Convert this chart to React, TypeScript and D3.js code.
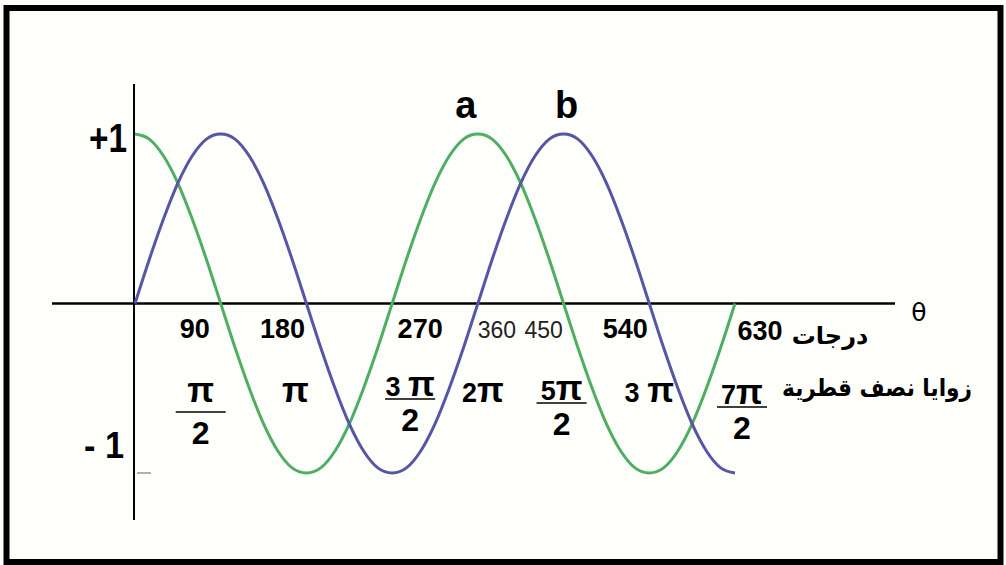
import React, { useRef, useEffect } from "react";
import * as d3 from "d3";

// angle samples in degrees
const degrees = [
  0, 15, 30, 45, 60, 75, 90, 105, 120, 135, 150, 165, 180, 195, 210, 225, 240,
  255, 270, 285, 300, 315, 330, 345, 360, 375, 390, 405, 420, 435, 450, 465,
  480, 495, 510, 525, 540, 555, 570, 585, 600, 615, 630,
];

// curve b (blue)
const seriesB = [
  0, 0.26, 0.5, 0.71, 0.87, 0.97, 1, 0.97, 0.87, 0.71, 0.5, 0.26, 0, -0.26,
  -0.5, -0.71, -0.87, -0.97, -1, -0.97, -0.87, -0.71, -0.5, -0.26, 0, 0.26,
  0.5, 0.71, 0.87, 0.97, 1, 0.97, 0.87, 0.71, 0.5, 0.26, 0, -0.26, -0.5,
  -0.71, -0.87, -0.97, -1,
];

// curve a (green)
const seriesA = [
  1, 0.97, 0.87, 0.71, 0.5, 0.26, 0, -0.26, -0.5, -0.71, -0.87, -0.97, -1,
  -0.97, -0.87, -0.71, -0.5, -0.26, 0, 0.26, 0.5, 0.71, 0.87, 0.97, 1, 0.97,
  0.87, 0.71, 0.5, 0.26, 0, -0.26, -0.5, -0.71, -0.87, -0.97, -1, -0.97,
  -0.87, -0.71, -0.5, -0.26, 0,
];

const degreeTicks = [90, 180, 270, 360, 450, 540, 630];
const degreeLabels = ["90", "180", "270", "360", "450", "540", "630"];
const degreeBold = [true, true, true, false, false, true, true];

const radianTicks = [90, 180, 270, 360, 450, 540, 630];
const radianCoef = ["", "", "3 ", "2", "5", "3 ", "7"];
const radianDen = ["2", "", "2", "", "2", "", "2"];

const degreeUnit = "درجات";
const radianUnit = "زوايا نصف قطرية";

// layout tweaks (px) for label placement, as in the picture
const degShift = [-26, -24, 28, 19, -20, -24, 25];
const radShift = [-20, -11, 18, 5, -2, 0, 7];
const fracLine = [412, 0, 399, 0, 403, 0, 407];

const App = () => {
  const ref = useRef<SVGSVGElement>(null);

  useEffect(() => {
    const svg = d3.select(ref.current);
    svg.selectAll("*").remove();

    const width = 1006;
    const height = 565;

    const x = d3.scaleLinear().domain([0, 630]).range([135, 735]);
    const y = d3.scaleLinear().domain([-1, 1]).range([473, 134]);

    svg
      .append("rect")
      .attr("width", width)
      .attr("height", height)
      .attr("fill", "#fefefb");

    // frame
    svg
      .append("rect")
      .attr("x", 6.5)
      .attr("y", 8)
      .attr("width", 994)
      .attr("height", 554)
      .attr("fill", "none")
      .attr("stroke", "#000")
      .attr("stroke-width", 6);

    // axes
    svg
      .append("line")
      .attr("x1", 52)
      .attr("x2", 895)
      .attr("y1", y(0))
      .attr("y2", y(0))
      .attr("stroke", "#000")
      .attr("stroke-width", 2.5);

    svg
      .append("line")
      .attr("x1", x(0) - 1)
      .attr("x2", x(0) - 1)
      .attr("y1", 84)
      .attr("y2", 520)
      .attr("stroke", "#000")
      .attr("stroke-width", 2);

    svg
      .append("line")
      .attr("x1", x(0) + 2)
      .attr("x2", x(0) + 16)
      .attr("y1", y(-1))
      .attr("y2", y(-1))
      .attr("stroke", "#b0b0b0")
      .attr("stroke-width", 2);

    // curves
    const line = d3
      .line<number>()
      .x((d, i) => x(degrees[i]))
      .y((d) => y(d))
      .curve(d3.curveCardinal);

    svg
      .append("path")
      .datum(seriesA)
      .attr("fill", "none")
      .attr("stroke", "#4fae62")
      .attr("stroke-width", 3)
      .attr("d", line);

    svg
      .append("path")
      .datum(seriesB)
      .attr("fill", "none")
      .attr("stroke", "#5656a6")
      .attr("stroke-width", 3)
      .attr("d", line);

    const font = "'Liberation Sans', Arial, sans-serif";

    // +1 / -1
    svg
      .append("text")
      .attr("x", 127)
      .attr("y", 152)
      .attr("text-anchor", "end")
      .attr("font-family", font)
      .attr("font-weight", "bold")
      .attr("font-size", 40)
      .attr("textLength", 38)
      .attr("lengthAdjust", "spacingAndGlyphs")
      .text("+1");

    svg
      .append("text")
      .attr("x", 124)
      .attr("y", 458)
      .attr("text-anchor", "end")
      .attr("font-family", font)
      .attr("font-weight", "bold")
      .attr("font-size", 36)
      .attr("textLength", 40)
      .attr("lengthAdjust", "spacingAndGlyphs")
      .text("- 1");

    // a / b
    svg
      .append("text")
      .attr("x", x(360) - 12)
      .attr("y", 118)
      .attr("text-anchor", "middle")
      .attr("font-family", font)
      .attr("font-weight", "bold")
      .attr("font-size", 38)
      .text("a");

    svg
      .append("text")
      .attr("x", x(450) + 3)
      .attr("y", 118)
      .attr("text-anchor", "middle")
      .attr("font-family", font)
      .attr("font-weight", "bold")
      .attr("font-size", 38)
      .text("b");

    // theta
    svg
      .append("text")
      .attr("x", 919)
      .attr("y", 321)
      .attr("text-anchor", "middle")
      .attr("font-family", "'DejaVu Sans', sans-serif")
      .attr("font-size", 25)
      .text("θ");

    // degree labels
    degreeTicks.forEach((d, i) => {
      svg
        .append("text")
        .attr("x", x(d) + degShift[i])
        .attr("y", i === 6 ? 340 : 338)
        .attr("text-anchor", "middle")
        .attr("font-family", font)
        .attr("font-weight", degreeBold[i] ? "bold" : "normal")
        .attr("font-size", degreeBold[i] ? 27 : 23)
        .attr("fill", degreeBold[i] ? "#000" : "#222")
        .text(degreeLabels[i]);
    });

    svg
      .append("text")
      .attr("x", 830)
      .attr("y", 344)
      .attr("text-anchor", "middle")
      .attr("font-family", "'DejaVu Sans', sans-serif")
      .attr("font-weight", "bold")
      .attr("font-size", 24)
      .text(degreeUnit);

    // numerator: coefficient + pi, pi drawn a bit taller
    const numerator = (cx: number, by: number, coef: string) => {
      const t = svg
        .append("text")
        .attr("x", cx)
        .attr("y", by)
        .attr("text-anchor", "middle")
        .attr("font-family", font)
        .attr("font-weight", "bold");
      if (coef) t.append("tspan").attr("font-size", 27).text(coef);
      t.append("tspan").attr("font-size", 35).text("π");
    };

    // radian labels
    radianTicks.forEach((d, i) => {
      const cx = x(d) + radShift[i];
      if (radianDen[i]) {
        const ly = fracLine[i];
        numerator(cx, ly - (i === 0 ? 10 : 3), radianCoef[i]);
        svg
          .append("line")
          .attr("x1", cx - 25)
          .attr("x2", cx + 25)
          .attr("y1", ly)
          .attr("y2", ly)
          .attr("stroke", "#000")
          .attr("stroke-width", 1.5);
        svg
          .append("text")
          .attr("x", cx)
          .attr("y", ly + 32)
          .attr("text-anchor", "middle")
          .attr("font-family", font)
          .attr("font-weight", "bold")
          .attr("font-size", 32)
          .text(radianDen[i]);
      } else {
        numerator(cx, 402, radianCoef[i]);
      }
    });

    svg
      .append("text")
      .attr("x", 877)
      .attr("y", 396)
      .attr("text-anchor", "middle")
      .attr("font-family", "'DejaVu Sans', sans-serif")
      .attr("font-weight", "bold")
      .attr("font-size", 24)
      .attr("textLength", 190)
      .attr("lengthAdjust", "spacingAndGlyphs")
      .text(radianUnit);
  }, []);

  return (
    <svg
      ref={ref}
      width={1006}
      height={565}
      style={{ position: "absolute", left: 0, top: 0 }}
    ></svg>
  );
};

export default App;
